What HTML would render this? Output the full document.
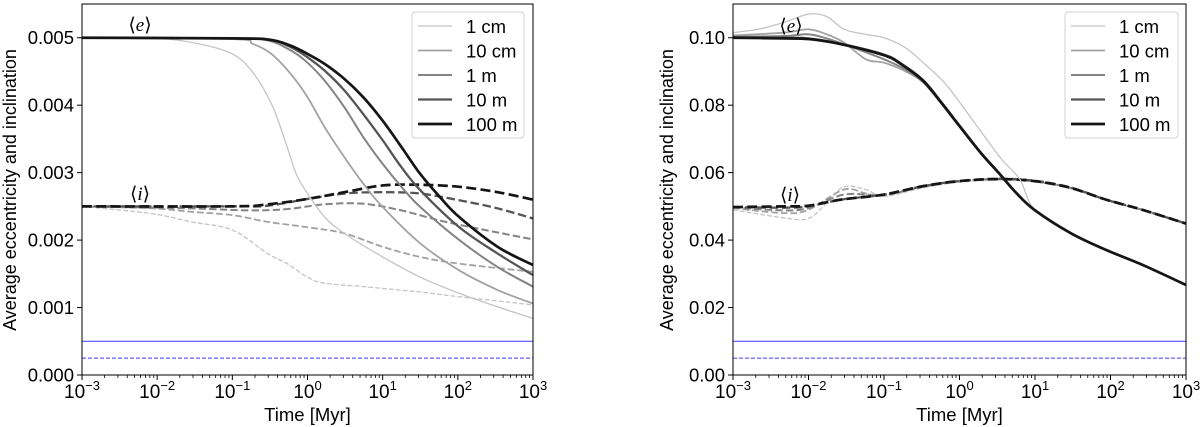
<!DOCTYPE html>
<html><head><meta charset="utf-8">
<style>
html,body{margin:0;padding:0;background:#fff;}
svg{display:block;font-family:"Liberation Sans",sans-serif;}
</style></head>
<body>
<svg id="chart" width="1200" height="427" viewBox="0 0 1200 427" xmlns="http://www.w3.org/2000/svg"></svg>
<script>
// ---------- data ----------
const sizes = ["1 cm","10 cm","1 m","10 m","100 m"];
const colors = ["#c4c4c4","#a2a2a2","#848484","#555555","#151515"];
const widths = [1.3,1.8,2.0,2.3,2.7];
const xTickExp = [-3,-2,-1,0,1,2,3];
const leftYTicks = [0,0.001,0.002,0.003,0.004,0.005];
const leftYLabels = ["0.000","0.001","0.002","0.003","0.004","0.005"];
const rightYTicks = [0,0.02,0.04,0.06,0.08,0.10];
const rightYLabels = ["0.00","0.02","0.04","0.06","0.08","0.10"];
// log10(time) positions
const L_e_1cm_x=[-3,-2,-1.45,-1,-0.73,-0.48,-0.3,-0.15,0,0.23,0.49,1.0,1.5,2.02,2.53,3];
const L_e_1cm_y=[0.005,0.00499,0.00491,0.00476,0.00449,0.00402,0.00348,0.00298,0.00269,0.00234,0.0021,0.00175,0.00145,0.00121,0.00101,0.00084];
const L_e_10cm_x=[-3,-1,-0.73,-0.48,-0.22,0,0.23,0.49,0.74,1,1.5,2.02,2.53,3];
const L_e_10cm_y=[0.005,0.00498,0.00491,0.00476,0.00446,0.00412,0.00367,0.00323,0.00284,0.00249,0.00195,0.00155,0.00126,0.00106];
const L_e_1m_x=[-3,-1,-0.53,-0.22,0,0.23,0.49,0.74,1,1.25,1.5,2.02,2.53,3];
const L_e_1m_y=[0.005,0.00499,0.00496,0.00481,0.00463,0.00436,0.00397,0.00353,0.00313,0.00279,0.00249,0.002,0.0016,0.00131];
const L_e_10m_x=[-3,-1,-0.5,-0.22,0,0.23,0.49,0.74,1,1.25,1.5,2.02,2.53,3];
const L_e_10m_y=[0.005,0.00499,0.00497,0.00486,0.00471,0.00451,0.00422,0.00387,0.00348,0.00308,0.00274,0.00219,0.0018,0.00148];
const L_e_100m_x=[-3,-1,-0.5,-0.22,0,0.23,0.49,0.74,1,1.25,1.5,1.76,2.02,2.53,3];
const L_e_100m_y=[0.005,0.00499,0.00497,0.00488,0.00476,0.00461,0.00439,0.00412,0.00377,0.00338,0.00298,0.00264,0.00234,0.0019,0.00163];
const L_i_1cm_x=[-3,-2.06,-1.55,-1,-0.53,-0.27,0,0.23,0.74,1.5,2.02,3];
const L_i_1cm_y=[0.0025,0.00239,0.00227,0.00215,0.0018,0.00165,0.00145,0.00136,0.00131,0.00123,0.00116,0.00104];
const L_i_10cm_x=[-3,-2.06,-1.55,-1,-0.53,0,0.49,1,1.5,2.02,3];
const L_i_10cm_y=[0.0025,0.00247,0.00242,0.00237,0.00227,0.00219,0.0021,0.0019,0.00175,0.00165,0.00153];
const L_i_1m_x=[-3,-1.55,-0.78,-0.27,0.23,0.74,1.25,1.76,2.27,3];
const L_i_1m_y=[0.0025,0.00247,0.00244,0.00246,0.00253,0.00254,0.00244,0.00229,0.00217,0.00201];
const L_i_10m_x=[-3,-1,-0.53,0,0.49,1,1.5,2.02,2.53,3];
const L_i_10m_y=[0.0025,0.0025,0.00251,0.00261,0.00269,0.00271,0.00269,0.00259,0.00247,0.00232];
const L_i_100m_x=[-3,-1,-0.53,0,0.49,1,1.5,2.02,2.53,3];
const L_i_100m_y=[0.0025,0.0025,0.00253,0.00261,0.00271,0.00281,0.00282,0.00279,0.00271,0.0026];
const R_e_1cm_x=[-3,-2.67,-2.33,-2,-1.76,-1.53,-1.24,-1,-0.72,-0.48,-0.2,0.04,0.33,0.56,0.8,0.99,1.47,1.94,2.42,3];
const R_e_1cm_y=[0.1015,0.1025,0.1045,0.107,0.1063,0.1025,0.101,0.1,0.0971,0.0926,0.0867,0.0797,0.0708,0.0639,0.058,0.0492,0.0423,0.0372,0.0328,0.0268];
const R_e_10cm_x=[-3,-2.33,-2,-1.76,-1.53,-1.24,-1,-0.72,-0.48,-0.24,0,0.28,0.52,0.75,0.99,1.47,1.94,2.42,3];
const R_e_10cm_y=[0.1007,0.1015,0.1025,0.101,0.0986,0.0936,0.0926,0.0901,0.0867,0.0805,0.0736,0.0657,0.0598,0.054,0.049,0.0421,0.0371,0.0327,0.0267];
const R_e_1m_x=[-3,-2.33,-2,-1.76,-1.47,-1,-0.72,-0.48,-0.24,0,0.28,0.52,0.75,0.99,1.47,1.94,2.42,3];
const R_e_1m_y=[0.1003,0.1005,0.101,0.0998,0.0976,0.0936,0.0906,0.0868,0.0805,0.0737,0.0658,0.0598,0.054,0.049,0.0421,0.0371,0.0327,0.0267];
const R_e_10m_x=[-3,-2.33,-2,-1.57,-1,-0.77,-0.48,-0.24,0,0.28,0.52,0.75,0.99,1.47,1.94,2.42,3];
const R_e_10m_y=[0.1001,0.1,0.0998,0.0982,0.095,0.0923,0.0874,0.0809,0.074,0.066,0.06,0.0541,0.049,0.0421,0.0371,0.0327,0.0267];
const R_e_100m_x=[-3,-2.33,-2,-1.57,-1,-0.77,-0.48,-0.24,0,0.28,0.52,0.75,0.99,1.47,1.94,2.42,3];
const R_e_100m_y=[0.1,0.0998,0.0996,0.0981,0.0948,0.0921,0.0872,0.0807,0.0738,0.0659,0.0599,0.054,0.049,0.0421,0.0371,0.0327,0.0267];
const R_i_1cm_x=[-3,-2.33,-2,-1.76,-1.53,-1.24,-1,-0.48,0,0.52,0.99,1.47,1.94,2.42,3];
const R_i_1cm_y=[0.049,0.0466,0.0464,0.051,0.0558,0.055,0.053,0.0555,0.0572,0.0578,0.0572,0.0553,0.0518,0.0488,0.0447];
const R_i_10cm_x=[-3,-2.33,-2,-1.53,-1.24,-1,-0.48,0,0.52,0.99,1.47,1.94,2.42,3];
const R_i_10cm_y=[0.0495,0.048,0.049,0.055,0.0538,0.0532,0.0558,0.0574,0.058,0.0574,0.0554,0.0519,0.0489,0.0448];
const R_i_1m_x=[-3,-2.33,-2,-1.53,-1,-0.48,0,0.52,0.99,1.47,1.94,2.42,3];
const R_i_1m_y=[0.0497,0.0488,0.0495,0.0535,0.0534,0.0559,0.0575,0.0581,0.0575,0.0555,0.052,0.049,0.0449];
const R_i_10m_x=[-3,-2.33,-2,-1.57,-1,-0.48,0,0.52,0.99,1.47,1.94,2.42,3];
const R_i_10m_y=[0.0498,0.0496,0.05,0.052,0.0535,0.056,0.0575,0.0582,0.0576,0.0556,0.052,0.049,0.0449];
const R_i_100m_x=[-3,-2.33,-2,-1.57,-1,-0.48,0,0.52,0.99,1.47,1.94,2.42,3];
const R_i_100m_y=[0.0498,0.05,0.0502,0.052,0.0535,0.056,0.0575,0.0581,0.0575,0.0555,0.052,0.049,0.0449];
const leftEX=[L_e_1cm_x,L_e_10cm_x,L_e_1m_x,L_e_10m_x,L_e_100m_x];
const leftEY=[L_e_1cm_y,L_e_10cm_y,L_e_1m_y,L_e_10m_y,L_e_100m_y];
const leftIX=[L_i_1cm_x,L_i_10cm_x,L_i_1m_x,L_i_10m_x,L_i_100m_x];
const leftIY=[L_i_1cm_y,L_i_10cm_y,L_i_1m_y,L_i_10m_y,L_i_100m_y];
const rightEX=[R_e_1cm_x,R_e_10cm_x,R_e_1m_x,R_e_10m_x,R_e_100m_x];
const rightEY=[R_e_1cm_y,R_e_10cm_y,R_e_1m_y,R_e_10m_y,R_e_100m_y];
const rightIX=[R_i_1cm_x,R_i_10cm_x,R_i_1m_x,R_i_10m_x,R_i_100m_x];
const rightIY=[R_i_1cm_y,R_i_10cm_y,R_i_1m_y,R_i_10m_y,R_i_100m_y];
const leftRef=[0.0005,0.00025];
const rightRef=[0.01,0.005];

const NS="http://www.w3.org/2000/svg";
const svg=document.getElementById('chart');
function mk(tag,attrs,parent){const e=document.createElementNS(NS,tag);for(const k in attrs)e.setAttribute(k,attrs[k]);(parent||svg).appendChild(e);return e;}

function smoothPath(pts){
  let d='M'+pts[0][0].toFixed(2)+','+pts[0][1].toFixed(2);
  for(let i=0;i<pts.length-1;i++){
    const p0=pts[Math.max(0,i-1)],p1=pts[i],p2=pts[i+1],p3=pts[Math.min(pts.length-1,i+2)];
    const c1x=p1[0]+(p2[0]-p0[0])/6,c1y=p1[1]+(p2[1]-p0[1])/6;
    const c2x=p2[0]-(p3[0]-p1[0])/6,c2y=p2[1]-(p3[1]-p1[1])/6;
    d+='C'+c1x.toFixed(2)+','+c1y.toFixed(2)+' '+c2x.toFixed(2)+','+c2y.toFixed(2)+' '+p2[0].toFixed(2)+','+p2[1].toFixed(2);
  }
  return d;
}

function panel(id,box,ymax,yt,yl,ex,ey,ix,iy,ref,eLab,iLab,leg){
  const g=mk('g',{});
  
  
  const X=v=>box.x0+(v+3)/6*(box.x1-box.x0);
  const Y=v=>box.y1-v/ymax*(box.y1-box.y0);
  const cp=mk('clipPath',{id:'cp'+id},g);
  mk('rect',{x:box.x0,y:box.y0,width:box.x1-box.x0,height:box.y1-box.y0},cp);
  const plot=mk('g',{'clip-path':'url(#cp'+id+')'},g);
  ref.forEach((r,k)=>{
    const l=mk('line',{x1:box.x0,x2:box.x1,y1:Y(r),y2:Y(r),stroke:'#3a3aff','stroke-width':1,'stroke-dasharray':k?'4,2':'none'},plot);
    
    
  });
  const path=(xs,ys)=>smoothPath(xs.map((x,j)=>[X(x),Y(ys[j])]));
  for(let s=0;s<5;s++){
    const w=widths[s];
    const p=mk('path',{d:path(ix[s],iy[s]),fill:'none',stroke:colors[s],'stroke-width':w,'stroke-dasharray':(3.7*w).toFixed(1)+','+(1.6*w).toFixed(1)},plot);
    
    
  }
  for(let s=0;s<5;s++){
    const p=mk('path',{d:path(ex[s],ey[s]),fill:'none',stroke:colors[s],'stroke-width':widths[s]},plot);
    
    
  }
  const fr=mk('rect',{x:box.x0,y:box.y0,width:box.x1-box.x0,height:box.y1-box.y0,fill:'none',stroke:'#000','stroke-width':1},g);
  
  
  xTickExp.forEach(e=>{
    const x=X(e);
    mk('line',{x1:x,x2:x,y1:box.y1,y2:box.y1+5,stroke:'#000'},g);
    const t=mk('text',{x:x,y:box.y1+23,'text-anchor':'middle','font-size':19},g);
    
    
    t.textContent='10';
    const ts=mk('tspan',{dy:-8,'font-size':13},t);ts.textContent=(e<0?'\u2212':'')+Math.abs(e);
    if(e<3)for(let m=2;m<10;m++){const xm=X(e+Math.log10(m));mk('line',{x1:xm,x2:xm,y1:box.y1,y2:box.y1+3,stroke:'#000','stroke-width':0.8},g);}
  });
  yt.forEach((v,k)=>{
    const y=Y(v);
    mk('line',{x1:box.x0-5,x2:box.x0,y1:y,y2:y,stroke:'#000'},g);
    const t=mk('text',{x:box.x0-8,y:y+6.5,'text-anchor':'end','font-size':18.5},g);
    
    
    t.textContent=yl[k];
  });
  const xt=mk('text',{x:(box.x0+box.x1)/2,y:421,'text-anchor':'middle','font-size':18.5},g);
  
  
  xt.textContent='Time [Myr]';
  const yc=box.ytx;
  const ytt=mk('text',{x:yc,y:190,'text-anchor':'middle','font-size':18,transform:'rotate(-90 '+yc+' 190)'},g);
  
  
  ytt.textContent='Average eccentricity and inclination';
  const el=mk('text',{x:eLab[0],y:eLab[1],'text-anchor':'middle','font-size':19,'font-family':'"Liberation Serif",serif'},g);
  
  
  el.innerHTML='\u27E8<tspan font-style="italic">e</tspan>\u27E9';
  const il=mk('text',{x:iLab[0],y:iLab[1],'text-anchor':'middle','font-size':19,'font-family':'"Liberation Serif",serif'},g);
  
  
  il.innerHTML='\u27E8<tspan font-style="italic">i</tspan>\u27E9';
  const lg=mk('g',{},g);
  
  
  mk('rect',{x:leg.x,y:12,width:leg.w,height:126,rx:3,fill:'#fff',stroke:'#d0d0d0'},lg);
  sizes.forEach((s,k)=>{
    const y=26+k*24.5;
    const en=mk('g',{},lg);
    
    
    mk('line',{x1:leg.x+6,x2:leg.x+40,y1:y,y2:y,stroke:colors[k],'stroke-width':widths[k]},en);
    const t=mk('text',{x:leg.x+54,y:y+7,'font-size':18.5},en);t.textContent=s;
  });
}
panel('left',{x0:82,x1:533,y0:4,y1:375,ytx:16},0.0055,leftYTicks,leftYLabels,leftEX,leftEY,leftIX,leftIY,leftRef,[140,31],[140,200],{x:412,w:112});
panel('right',{x0:733,x1:1186,y0:4,y1:375,ytx:673},0.11,rightYTicks,rightYLabels,rightEX,rightEY,rightIX,rightIY,rightRef,[791,32],[790,201],{x:1065,w:113});
</script>
</body></html>
